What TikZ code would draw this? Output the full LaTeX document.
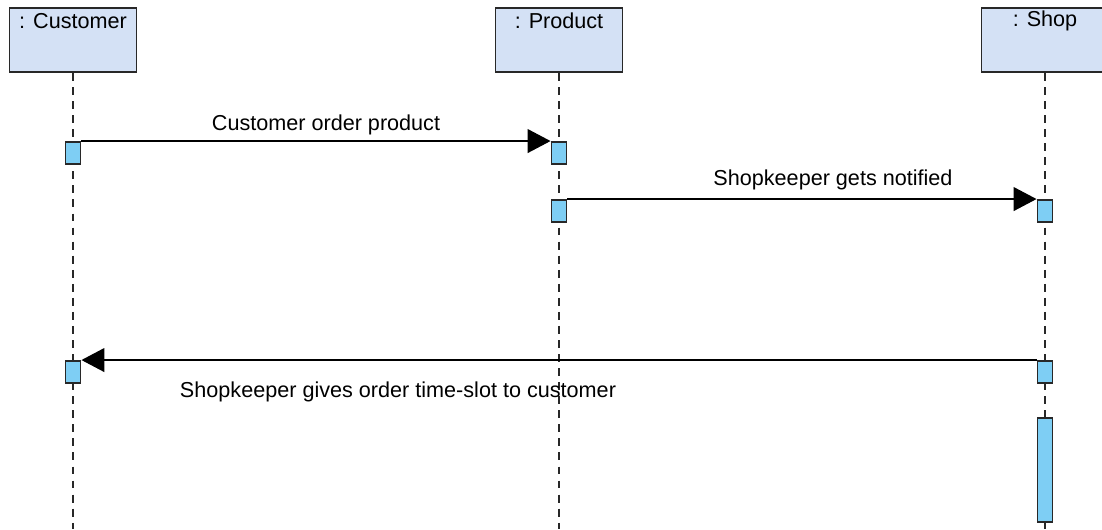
\documentclass[tikz,border=0pt]{standalone}
\usepackage{fontspec}
\setmainfont{Liberation Sans}
\definecolor{HeadBlue}{RGB}{212,225,245}
\definecolor{ActBlue}{RGB}{126,206,244}
\definecolor{LineGray}{RGB}{40,40,40}
\usetikzlibrary{arrows.meta, positioning}

\begin{document}
\begin{tikzpicture}[x=0.02cm, y=-0.02cm,
    every node/.style={font=\fontsize{12.3}{14}\selectfont},
    headbox/.style={draw=LineGray, line width=1.1pt, fill=HeadBlue,
                    minimum width=2.54cm, minimum height=1.28cm, inner sep=0pt},
    actbox/.style={draw=LineGray, line width=1.1pt, fill=ActBlue,
                   minimum width=0.3cm, minimum height=0.44cm, inner sep=0pt},
    lifeline/.style={LineGray, line width=0.9pt, dash pattern=on 4.5pt off 3.5pt},
    msg/.style={black, line width=0.85pt, -{Triangle[length=13pt, width=13.5pt]}}]

  % Page frame
  \useasboundingbox (0,0) rectangle (1102,529);
  \fill[white] (0,0) rectangle (1102,529);
  \coordinate (bottom) at (0,529);

  % Lifeline heads
  \begin{scope}
    \clip (0,0) rectangle (1102,529);
    \node[headbox] (cust) at (73,40) {};
    \node[headbox] (prod) at (559,40) {};
    \node[headbox] (shop) at (1045,40) {};
  \end{scope}

  \node (custname) at (73,21) {: Customer};
  \node (prodname) at (559,21) {: Product};
  \node (shopname) at (1045,21) {: Shop};

  % Lifelines
  \draw[lifeline] (cust.south) -- (cust.south |- bottom);
  \draw[lifeline] (prod.south) -- (prod.south |- bottom);
  \draw[lifeline] (shop.south) -- (shop.south |- bottom);

  % Activations
  \node[actbox] (custA) at (73,153) {};
  \node[actbox] (prodA) at (559,153) {};
  \node[actbox] (prodB) at (559,211) {};
  \node[actbox] (shopA) at (1045,211) {};
  \node[actbox] (custB) at (73,372) {};
  \node[actbox] (shopB) at (1045,372) {};
  \node[actbox, minimum height=2.08cm] (shopC) at (1045,470) {};

  % Messages
  \draw[msg] (custA.north east) -- (prodA.north west);
  \node (order) at (326,125) {Customer order product};

  \draw[msg] (prodB.north east) -- (shopA.north west);
  \node (notify) at (833,180) {Shopkeeper gets notified};

  \draw[msg] (shopB.north west) -- (custB.north east);
  \node (slot) at (398,392) {Shopkeeper gives order time-slot to customer};

\end{tikzpicture}
\end{document}
